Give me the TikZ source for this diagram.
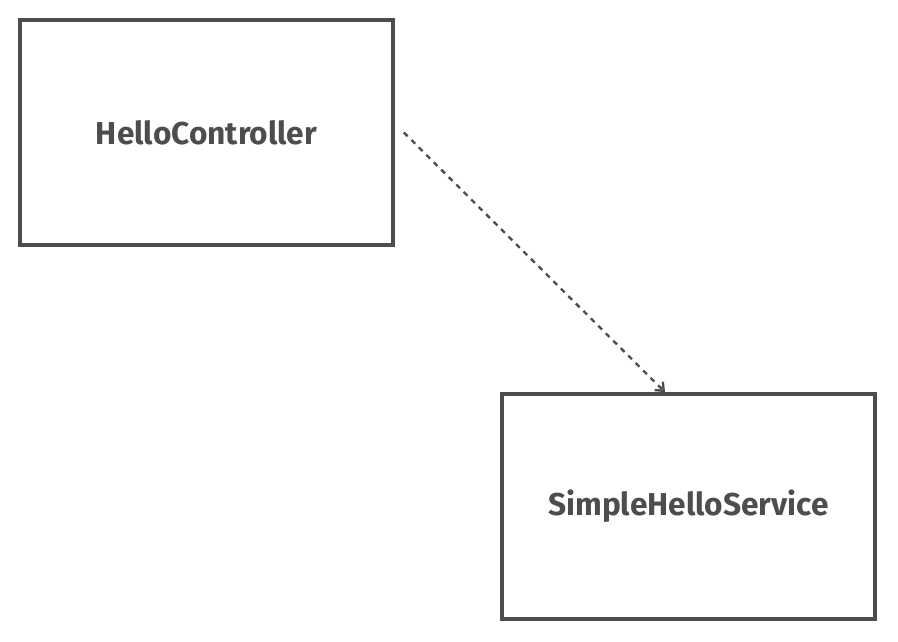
\documentclass[tikz,border=0pt]{standalone}
\usepackage{fontspec}
\setmainfont{Fira Sans}
\definecolor{boxgray}{RGB}{77,77,77}
\usetikzlibrary{arrows.meta,positioning,calc}

\begin{document}
\begin{tikzpicture}[x=0.03cm,y=-0.03cm,every node/.style={font=\fontsize{27}{32}\selectfont\bfseries,text=boxgray,align=center}]
  \useasboundingbox (0,0) rectangle (898,641);
  \tikzset{classbox/.style={draw=boxgray,line width=3.2pt,minimum width=11.19cm,minimum height=6.75cm,inner sep=0pt}}
  % Boxes
  \node[classbox] (ctrl) at (206.5,132.5) {HelloController};
  \node[classbox] (svc) at (688.5,506.5) {SimpleHelloService};
  % Dependency
  \coordinate (from) at ([xshift=0.27cm]ctrl.east);
  \coordinate (to) at ([xshift=-0.705cm]svc.north);
  \draw[boxgray,line width=2pt,dash pattern=on 4.5pt off 4.5pt,-{Straight Barb[length=6pt,width=10pt]}] (from) -- (to);
\end{tikzpicture}
\end{document}
